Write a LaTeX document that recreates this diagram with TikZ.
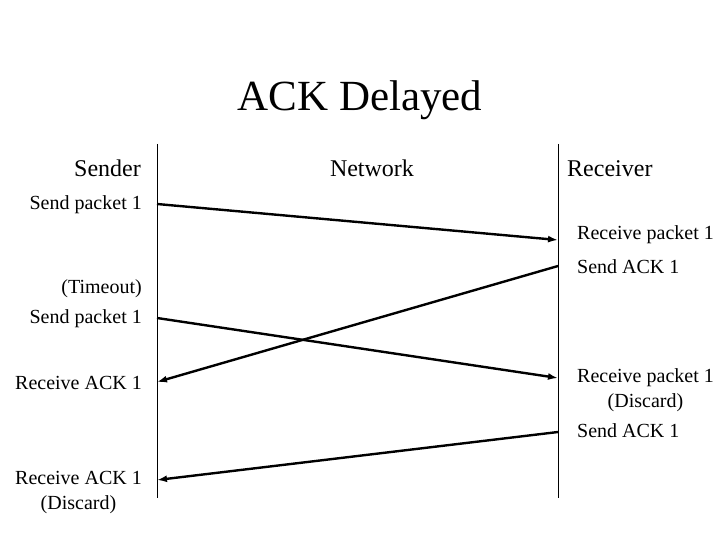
\documentclass[tikz,border=0pt]{standalone}
\usepackage{fontspec}
\setmainfont{Liberation Serif}
\usetikzlibrary{arrows.meta,positioning}

\begin{document}
\begin{tikzpicture}[x=1pt, y=-1pt,
        lbl/.style = {font=\fontsize{20}{24}\selectfont, inner sep=0pt},
        head/.style = {font=\fontsize{24}{29}\selectfont, inner sep=0pt},
        msg/.style = {-{Latex[length=10pt,width=7pt]}, line width=2.4pt},
        life/.style = {line width=0.9pt}]
            \useasboundingbox (0,0) rectangle (720,540);

            \node[font=\fontsize{43}{50}\selectfont, inner sep=0pt, anchor=base] (title) at (360,111) {ACK Delayed};
            \node[head, anchor=base east] (sender) at (141,177) {Sender};
            \node[head, anchor=base] (network) at (372,177) {Network};
            \node[head, anchor=base west] (receiver) at (567,177) {Receiver};

            \coordinate (stop) at (157,144);
            \coordinate (sbot) at (157,498);
            \coordinate (rtop) at (558,144);
            \coordinate (rbot) at (558,498);
            \draw[life] (stop) -- (sbot);
            \draw[life] (rtop) -- (rbot);

            \node[lbl, anchor=base east] (sp1) at (142,210) {Send packet 1};
            \node[lbl, anchor=base east] (tmo) at (142,293) {(Timeout)};
            \node[lbl, anchor=base east] (sp2) at (142,323) {Send packet 1};
            \node[lbl, anchor=base east] (ra1) at (142,389) {Receive ACK 1};
            \node[lbl, anchor=base east] (ra2) at (142,484) {Receive ACK 1};
            \node[lbl] (ra2d) [below of=ra2, node distance=27pt] {(Discard)};

            \node[lbl, anchor=base west] (rp1) at (577,240) {Receive packet 1};
            \node[lbl, anchor=base west] (sa1) at (577,273) {Send ACK 1};
            \node[lbl, anchor=base west] (rp2) at (577,382) {Receive packet 1};
            \node[lbl] (rp2d) [below of=rp2, node distance=25pt] {(Discard)};
            \node[lbl, anchor=base west] (sa2) at (577,437) {Send ACK 1};

            \coordinate (s1) at (157,204);
            \coordinate (r1) at (558,240);
            \coordinate (r2) at (558,266);
            \coordinate (s2) at (157,382);
            \coordinate (s3) at (157,318);
            \coordinate (r3) at (558,378);
            \coordinate (r4) at (558,432);
            \coordinate (s4) at (157,480);

            \draw[msg] (s1) -- (r1);
            \draw[msg] (r2) -- (s2);
            \draw[msg] (s3) -- (r3);
            \draw[msg] (r4) -- (s4);
        \end{tikzpicture}
\end{document}
